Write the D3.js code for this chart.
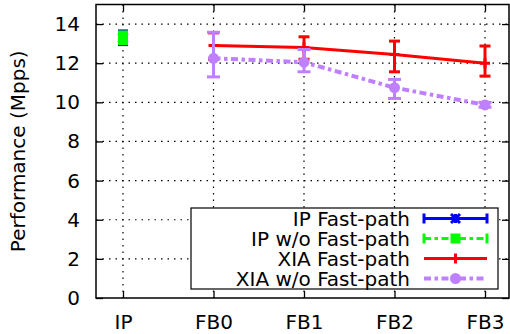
<!DOCTYPE html>
<html>
<head>
<meta charset="utf-8">
<script src="https://cdn.jsdelivr.net/npm/d3@7"></script>
<style>
  html, body { margin: 0; padding: 0; background: #fff; }
  svg { display: block; }
  text { font-family: "DejaVu Sans", sans-serif; fill: #000; }
</style>
</head>
<body>
<svg id="chart" width="510" height="334"></svg>
<script>
// Categories along the x axis
const categories = ["IP", "FB0", "FB1", "FB2", "FB3"];
const yTicks = [0, 2, 4, 6, 8, 10, 12, 14];

// Series: [category, value, low, high]
const ipFast = [["IP", 13.3, 12.95, 13.65]];
const ipNoFast = [["IP", 13.3, 13.0, 13.6]];
const xiaFast = [
  ["FB0", 12.9, 12.2, 13.55],
  ["FB1", 12.8, 12.2, 13.35],
  ["FB2", 12.45, 11.56, 13.13],
  ["FB3", 12.0, 11.34, 12.88]
];
const xiaNoFast = [
  ["FB0", 12.25, 11.3, 13.58],
  ["FB1", 12.05, 11.56, 12.7],
  ["FB2", 10.75, 10.2, 11.17],
  ["FB3", 9.87, 9.75, 10.0]
];

const seriesNames = ["IP Fast-path", "IP w/o Fast-path", "XIA Fast-path", "XIA w/o Fast-path"];

const svg = d3.select("#chart");
const frame = { left: 96, right: 509, top: 4.5, bottom: 298 };

const x = d3.scalePoint().domain(categories).range([123, 485]);
const y = d3.scaleLinear().domain([0, 15]).range([frame.bottom, frame.top]);

const styles = [
  { data: ipFast, name: seriesNames[0], color: "#0000ff", width: 3, dash: null, marker: "x", cap: 10, legendCaps: true },
  { data: ipNoFast, name: seriesNames[1], color: "#00ff00", width: 3, dash: "7,3.5,3.5,3.5", marker: "square", cap: 10, legendCaps: true },
  { data: xiaFast, name: seriesNames[2], color: "#ff0000", width: 3, dash: null, marker: "plus", cap: 11, legendCaps: false },
  { data: xiaNoFast, name: seriesNames[3], color: "#bf80ff", width: 4, dash: "7,3.5,3.5,3.5", marker: "circle", cap: 13, legendCaps: false }
];

// Dotted grid
const grid = svg.append("g").attr("stroke", "#000").attr("stroke-width", 1.2)
  .attr("stroke-dasharray", "1.5,5");
grid.selectAll("line.h").data(yTicks.filter(d => d > 0)).enter().append("line")
  .attr("x1", frame.left).attr("x2", frame.right)
  .attr("y1", d => y(d)).attr("y2", d => y(d));
grid.selectAll("line.v").data(categories).enter().append("line")
  .attr("x1", d => x(d)).attr("x2", d => x(d))
  .attr("y1", frame.top).attr("y2", frame.bottom);

// Axes with inward ticks
const axisStyle = g => {
  g.select(".domain").remove();
  g.selectAll(".tick line").attr("stroke", "#000").attr("stroke-width", 1.3);
  g.selectAll(".tick text").attr("font-size", 20).attr("font-family", "DejaVu Sans");
};
svg.append("g").attr("transform", `translate(0,${frame.bottom})`)
  .call(d3.axisBottom(x).tickSizeInner(-7).tickSizeOuter(0).tickPadding(17))
  .call(axisStyle);
svg.append("g").attr("transform", `translate(0,${frame.top})`)
  .call(d3.axisTop(x).tickSizeInner(-7).tickSizeOuter(0).tickFormat(""))
  .call(axisStyle);
svg.append("g").attr("transform", `translate(${frame.left},0)`)
  .call(d3.axisLeft(y).tickValues(yTicks).tickSizeInner(-7).tickSizeOuter(0).tickPadding(16))
  .call(axisStyle);
svg.append("g").attr("transform", `translate(${frame.right},0)`)
  .call(d3.axisRight(y).tickValues(yTicks).tickSizeInner(-7).tickSizeOuter(0).tickFormat(""))
  .call(axisStyle);

svg.append("rect")
  .attr("x", frame.left).attr("y", frame.top)
  .attr("width", frame.right - frame.left).attr("height", frame.bottom - frame.top)
  .attr("fill", "none").attr("stroke", "#000").attr("stroke-width", 1.5);

svg.append("text")
  .attr("transform", `translate(25,${(frame.top + frame.bottom) / 2}) rotate(-90)`)
  .attr("text-anchor", "middle").attr("font-size", 20)
  .text("Performance (Mpps)");

function drawMarker(g, type, cx, cy, color) {
  if (type === "x") {
    const s = 4.5;
    g.append("path").attr("d", `M${cx - s},${cy - s}L${cx + s},${cy + s}M${cx - s},${cy + s}L${cx + s},${cy - s}M${cx},${cy - s}V${cy + s}`)
      .attr("stroke", color).attr("stroke-width", 3).attr("fill", "none");
  } else if (type === "square") {
    g.append("rect").attr("x", cx - 5).attr("y", cy - 5).attr("width", 10).attr("height", 10).attr("fill", color);
  } else if (type === "plus") {
    const s = 5;
    g.append("path").attr("d", `M${cx - s},${cy}H${cx + s}M${cx},${cy - s}V${cy + s}`)
      .attr("stroke", color).attr("stroke-width", 3).attr("fill", "none");
  } else if (type === "circle") {
    g.append("circle").attr("cx", cx).attr("cy", cy).attr("r", 5.5).attr("fill", color);
  }
}

// Legend box (drawn beneath the data, above the grid)
const legend = svg.append("g");
legend.append("rect")
  .attr("x", 191).attr("y", 208).attr("width", 307).attr("height", 81)
  .attr("fill", "#fff").attr("stroke", "#000").attr("stroke-width", 1.2);

styles.forEach((s, i) => {
  const ly = 218.5 + i * 20;
  legend.append("text").attr("x", 410).attr("y", ly).attr("dy", "0.36em")
    .attr("text-anchor", "end").attr("font-size", 20).text(s.name);
  legend.append("line").attr("x1", 424).attr("x2", 487).attr("y1", ly).attr("y2", ly)
    .attr("stroke", s.color).attr("stroke-width", s.width)
    .attr("stroke-dasharray", s.dash);
  if (s.legendCaps) {
    [424, 487].forEach(cx => legend.append("line")
      .attr("x1", cx).attr("x2", cx).attr("y1", ly - 5).attr("y2", ly + 5)
      .attr("stroke", s.color).attr("stroke-width", 3));
  }
  drawMarker(legend, s.marker, 455.5, ly, s.color);
});

// Series: lines, error bars, markers
styles.forEach(s => {
  const g = svg.append("g");
  if (s.data.length > 1) {
    g.append("path")
      .datum(s.data)
      .attr("d", d3.line().x(d => x(d[0])).y(d => y(d[1])))
      .attr("fill", "none").attr("stroke", s.color)
      .attr("stroke-width", s.width).attr("stroke-dasharray", s.dash);
  }
  s.data.forEach(d => {
    const cx = x(d[0]);
    g.append("line").attr("x1", cx).attr("x2", cx).attr("y1", y(d[2])).attr("y2", y(d[3]))
      .attr("stroke", s.color).attr("stroke-width", 3);
    [d[2], d[3]].forEach(v => g.append("line")
      .attr("x1", cx - s.cap / 2).attr("x2", cx + s.cap / 2)
      .attr("y1", y(v)).attr("y2", y(v))
      .attr("stroke", s.color).attr("stroke-width", 3));
    drawMarker(g, s.marker, cx, y(d[1]), s.color);
  });
});
</script>
</body>
</html>
